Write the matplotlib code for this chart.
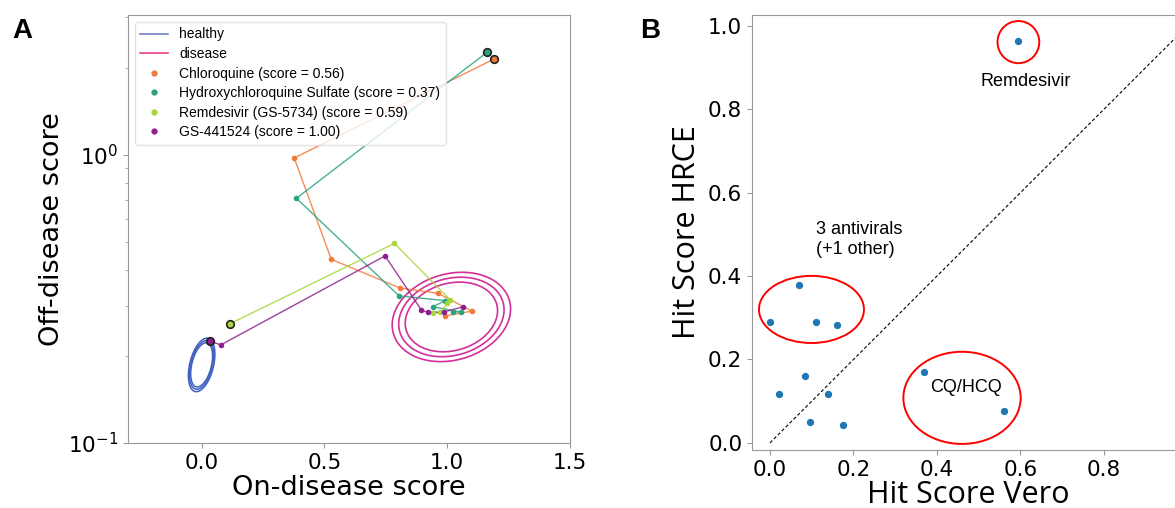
import numpy as np
import matplotlib.pyplot as plt
from matplotlib.patches import Ellipse
from matplotlib.lines import Line2D

# ---- panel A data ----
drug_labels = ["Chloroquine (score = 0.56)",
               "Hydroxychloroquine Sulfate (score = 0.37)",
               "Remdesivir (GS-5734) (score = 0.59)",
               "GS-441524 (score = 1.00)"]
drug_colors = ["#f07a3a", "#2aa37f", "#a8d63a", "#8e1f8e"]

cq_x = [1.19, 0.377, 0.528, 0.808, 0.962, 1.101, 0.992]
cq_y = [2.15, 0.976, 0.434, 0.345, 0.331, 0.287, 0.276]
hcq_x = [1.162, 0.386, 0.804, 0.992, 0.941, 1.056, 1.023]
hcq_y = [2.27, 0.707, 0.324, 0.312, 0.297, 0.285, 0.285]
rem_x = [0.114, 0.785, 1.012, 0.999, 0.971, 0.942]
rem_y = [0.259, 0.493, 0.314, 0.305, 0.284, 0.282]
gs_x = [0.033, 0.078, 0.747, 0.894, 0.920, 0.988, 1.064]
gs_y = [0.226, 0.219, 0.446, 0.290, 0.284, 0.285, 0.297]

# healthy / disease distributions: centre (x, log10 y), spread, correlation
healthy_center = (0.0, -0.729)
healthy_sd = (0.027, 0.0465)
healthy_rho = 0.4
healthy_levels = [1.65, 1.82, 2.0]
disease_center = (1.017, -0.5625)
disease_sd = (0.1205, 0.0775)
disease_rho = 0.18
disease_levels = [1.56, 1.78, 2.0]

# ---- panel B data ----
vero = [0.595, 0.070, 0.0, 0.110, 0.160, 0.084, 0.022, 0.139, 0.096, 0.174, 0.369, 0.561]
hrce = [0.964, 0.379, 0.291, 0.289, 0.283, 0.161, 0.117, 0.117, 0.050, 0.043, 0.170, 0.077]


def mahal(X, LY, center, sd, rho):
    u = (X - center[0]) / sd[0]
    v = (LY - center[1]) / sd[1]
    return np.sqrt((u * u - 2 * rho * u * v + v * v) / (1 - rho ** 2))


fig = plt.figure(figsize=(11.75, 5.08), dpi=100)

# ---------------- Panel A ----------------
ax = fig.add_axes([0.1089, 0.128, 0.3762, 0.8425])
ax.set_yscale("log")

xs = np.linspace(-0.3, 1.5, 500)
lys = np.linspace(-1.0, 0.5, 500)
X, LY = np.meshgrid(xs, lys)
ax.contour(X, 10 ** LY, mahal(X, LY, healthy_center, healthy_sd, healthy_rho),
           levels=healthy_levels, colors="#4161c0", linewidths=1.1)
ax.contour(X, 10 ** LY, mahal(X, LY, disease_center, disease_sd, disease_rho),
           levels=disease_levels, colors="#d3309a", linewidths=1.2)

trajs = [(cq_x, cq_y), (hcq_x, hcq_y), (rem_x, rem_y), (gs_x, gs_y)]
for (tx, ty), c in zip(trajs, drug_colors):
    ax.plot(tx, ty, "-", color=c, lw=1, alpha=0.85)
    ax.scatter(tx[1:], ty[1:], s=9, color=c, zorder=3)
    ax.scatter(tx[:1], ty[:1], s=30, color=c, edgecolor="#222222", linewidth=1.2, zorder=4)

ax.set_xlim(-0.3, 1.5)
ax.set_ylim(0.1, 3.06)
ax.set_xticks([0.0, 0.5, 1.0, 1.5])
ax.set_xticklabels(["0.0", "0.5", "1.0", "1.5"])
ax.tick_params(labelsize=15.5, color="#999999")
ax.tick_params(which="minor", color="#999999")
for s in ax.spines.values():
    s.set_color("#999999")
ax.set_xlabel("On-disease score", fontsize=19.5, labelpad=2)
ax.set_ylabel("Off-disease score", fontsize=19.5, labelpad=2)

handles = [Line2D([], [], color="#6f84c8", lw=1.2),
           Line2D([], [], color="#e8408a", lw=1.2)]
for c in drug_colors:
    handles.append(Line2D([], [], color=c, marker="o", ls="", markersize=3.5))
leg = ax.legend(handles, ["healthy", "disease"] + drug_labels, loc="upper left",
                prop={"family": "Liberation Sans", "size": 10}, labelspacing=0.4,
                framealpha=0.8, edgecolor="#dddddd")

fig.text(0.0102, 0.925, "A", fontsize=20, fontweight="bold", family="Liberation Sans")

# ---------------- Panel B ----------------
bx = fig.add_axes([0.64, 0.1142, 0.3685, 0.8563])
bx.plot([0, 1], [0, 1], "--", color="black", lw=0.8, dashes=(3, 2))
bx.scatter(vero, hrce, s=18, color="#1f77b4", zorder=3)

bx.add_patch(Ellipse((0.595, 0.961), 0.1, 0.101, fill=False, edgecolor="red", lw=1.4))
bx.add_patch(Ellipse((0.0994, 0.320), 0.2515, 0.161, fill=False, edgecolor="red", lw=1.4))
bx.add_patch(Ellipse((0.46, 0.108), 0.281, 0.221, fill=False, edgecolor="red", lw=1.4))

bx.text(0.612, 0.867, "Remdesivir", fontsize=13, family="Liberation Sans",
        ha="center", va="center")
bx.text(0.110, 0.487, "3 antivirals\n(+1 other)", fontsize=13, family="Liberation Sans",
        ha="left", va="center")
bx.text(0.469, 0.133, "CQ/HCQ", fontsize=13, family="Liberation Sans",
        ha="center", va="center")

bx.set_xlim(-0.043, 0.994)
bx.set_ylim(-0.017, 1.026)
bx.set_xticks([0.0, 0.2, 0.4, 0.6, 0.8])
bx.set_yticks([0.0, 0.2, 0.4, 0.6, 0.8, 1.0])
bx.tick_params(labelsize=15.5, color="#999999")
for s in bx.spines.values():
    s.set_color("#999999")
bx.set_xlabel("Hit Score Vero", fontsize=22, family="Open Sans", labelpad=0)
bx.set_ylabel("Hit Score HRCE", fontsize=22, family="Open Sans", labelpad=4)

fig.text(0.5447, 0.925, "B", fontsize=20, fontweight="bold", family="Liberation Sans")

fig.savefig("out.png", dpi=100)
